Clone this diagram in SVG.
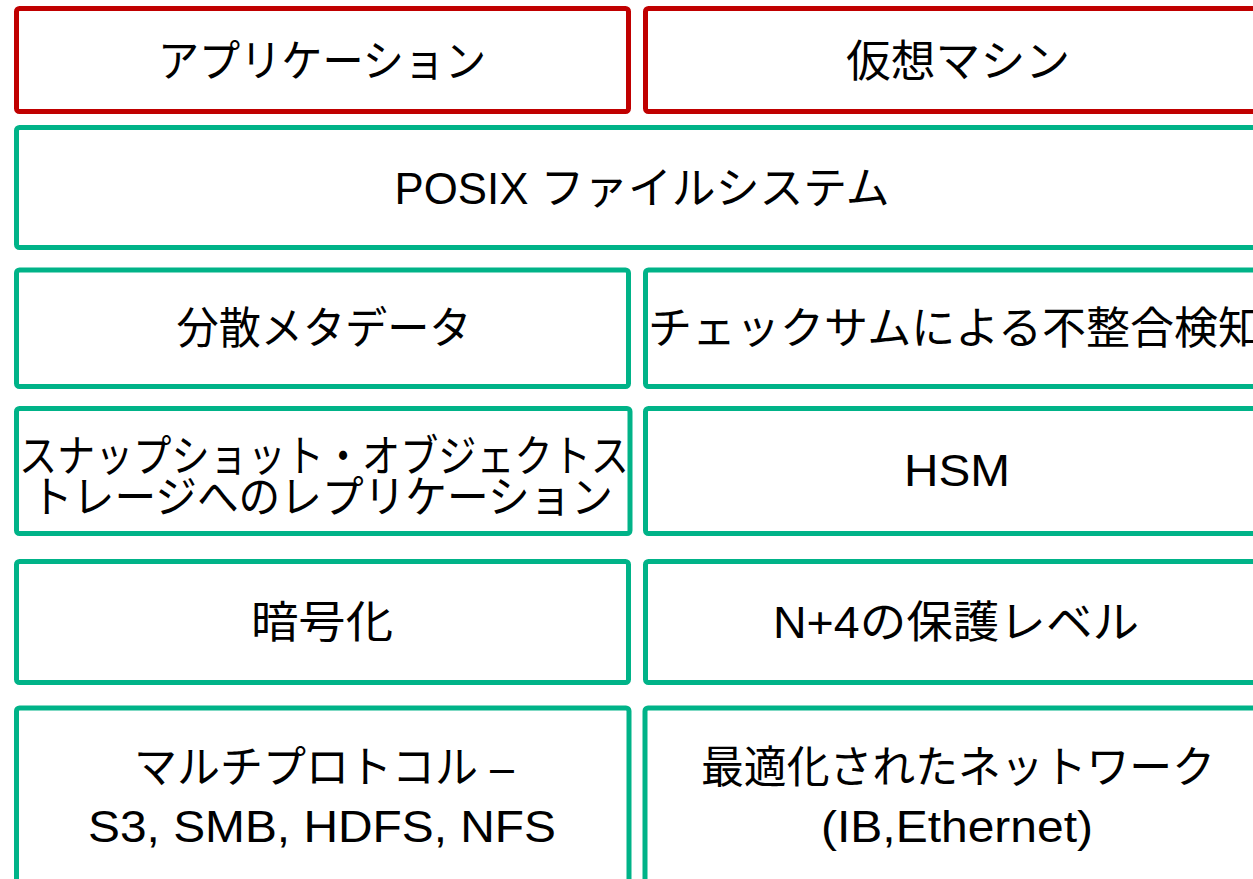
<svg xmlns="http://www.w3.org/2000/svg" width="1253" height="879" viewBox="0 0 1253 879">
<style>
.r{fill:#fff;stroke:#C00000;stroke-width:5}
.g{fill:#fff;stroke:#00B388;stroke-width:5}
text{font-family:"Liberation Sans","Noto Sans CJK JP",sans-serif;font-size:44px;fill:#000;text-anchor:middle}
</style>
<rect width="1253" height="879" fill="#fff"/>
<g id="app"><rect class="r" x="16.5" y="8.5" width="612" height="103" rx="3"/><text x="322" y="77" textLength="328" lengthAdjust="spacingAndGlyphs">アプリケーション</text></g>
<g id="vm"><rect class="r" x="645.5" y="8.5" width="625" height="103" rx="3"/><text x="958" y="77" textLength="224" lengthAdjust="spacingAndGlyphs">仮想マシン</text></g>
<g id="posix"><rect class="g" x="16.5" y="127.5" width="1254" height="120" rx="3"/><text x="642" y="204" textLength="495" lengthAdjust="spacingAndGlyphs">POSIX ファイルシステム</text></g>
<g id="meta"><rect class="g" x="16.5" y="270" width="612" height="116.5" rx="3"/><text x="324" y="344" textLength="295" lengthAdjust="spacingAndGlyphs">分散メタデータ</text></g>
<g id="checksum"><rect class="g" x="645.5" y="270" width="625" height="116.5" rx="3"/><text x="648" y="344" style="text-anchor:start" textLength="614" lengthAdjust="spacingAndGlyphs">チェックサムによる不整合検知</text></g>
<g id="snapshot"><rect class="g" x="16.5" y="408.5" width="613.5" height="125" rx="3"/><text x="324" y="472" textLength="610" lengthAdjust="spacingAndGlyphs">スナップショット・オブジェクトス</text><text x="322" y="513" textLength="582" lengthAdjust="spacingAndGlyphs">トレージへのレプリケーション</text></g>
<g id="hsm"><rect class="g" x="645.5" y="408.5" width="625" height="125" rx="3"/><text x="957" y="486" textLength="106" lengthAdjust="spacingAndGlyphs">HSM</text></g>
<g id="encrypt"><rect class="g" x="16.5" y="561.5" width="612" height="121" rx="3"/><text x="322" y="638" textLength="142" lengthAdjust="spacingAndGlyphs">暗号化</text></g>
<g id="protect"><rect class="g" x="645.5" y="561.5" width="625" height="121" rx="3"/><text x="956" y="638" textLength="366" lengthAdjust="spacingAndGlyphs">N+4の保護レベル</text></g>
<g id="proto"><rect class="g" x="16.5" y="708" width="612.5" height="200" rx="3"/><text x="324" y="783" textLength="380" lengthAdjust="spacingAndGlyphs">マルチプロトコル –</text><text x="322" y="842" textLength="468" lengthAdjust="spacingAndGlyphs">S3, SMB, HDFS, NFS</text></g>
<g id="network"><rect class="g" x="645" y="708" width="625" height="200" rx="3"/><text x="958" y="783" textLength="514" lengthAdjust="spacingAndGlyphs">最適化されたネットワーク</text><text x="957" y="842" textLength="272" lengthAdjust="spacingAndGlyphs">(IB,Ethernet)</text></g>
<g id="connectors"></g>
</svg>
